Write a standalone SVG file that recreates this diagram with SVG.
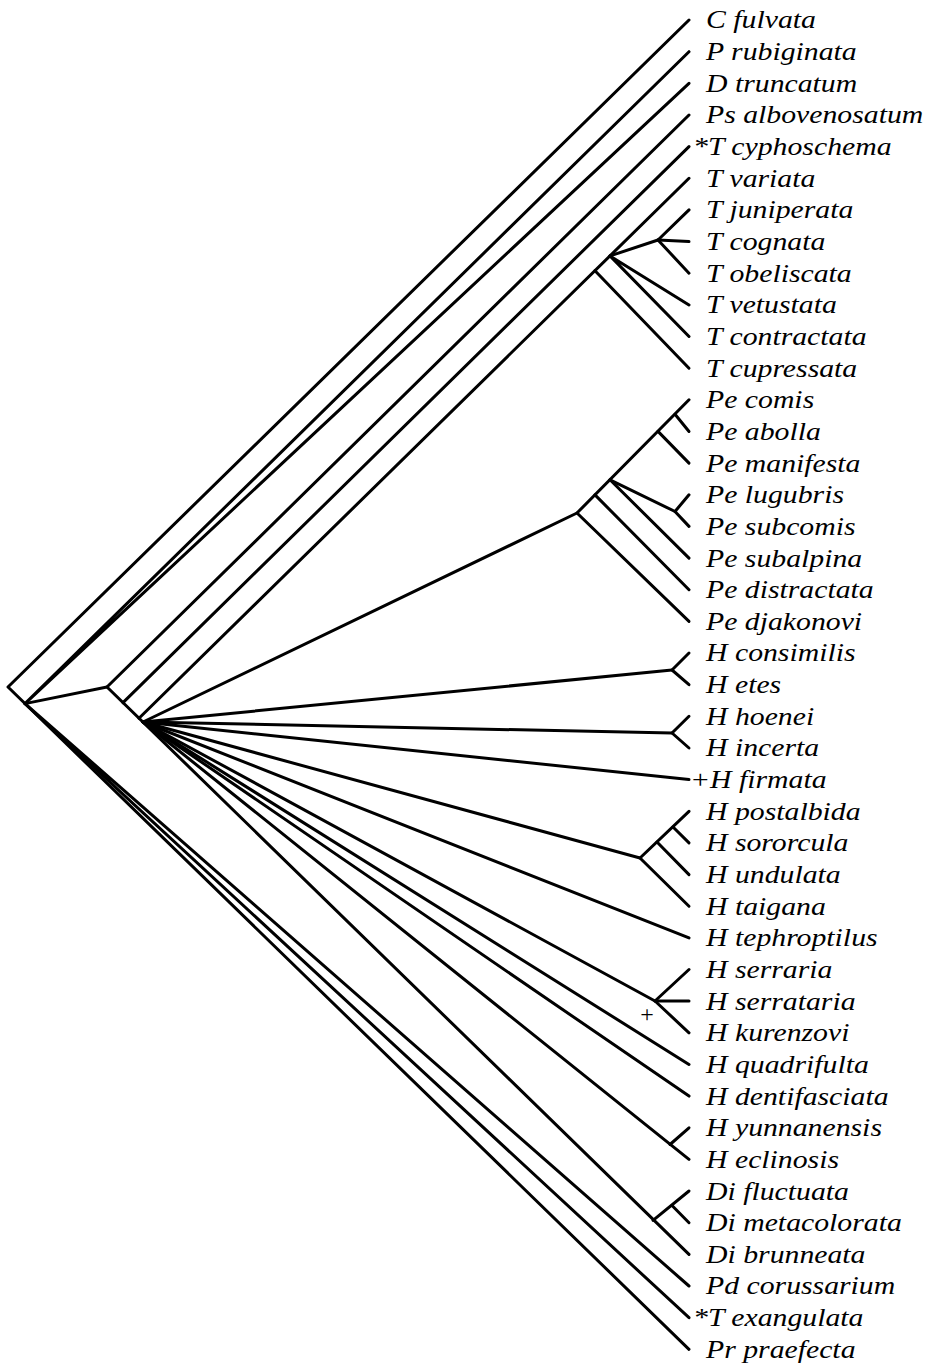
<svg xmlns="http://www.w3.org/2000/svg" width="937" height="1367" viewBox="0 0 937 1367">
<style>
.e{fill:none;stroke:#000;stroke-width:3;stroke-linecap:round;stroke-linejoin:round}
.t{font-family:"Liberation Serif","Times New Roman",serif;font-style:italic;font-size:25px;fill:#000}
.p{font-family:"Liberation Serif","Times New Roman",serif;font-size:24px;fill:#000}
</style>
<rect width="937" height="1367" fill="#fff"/>
<g id="connectors" class="e">
<path d="M689,20 L8,687 L689,1349.3"/>
<path d="M689,51.7 L25,703.6 L689,83.3"/>
<path d="M689,1286 L25,703.6 L689,1317.7"/>
<path d="M25,703.6 L107,687"/>
<path d="M689,115 L107,687 L689,1254.4"/>
<path d="M123,702.6 L689,146.6"/>
<path d="M139,718.3 L689,178.3"/>
<path d="M595,270.7 L689,368.2"/>
<path d="M689,304.9 L610,255.9 L689,336.5"/>
<path d="M610,255.9 L658,240"/>
<path d="M689,209.9 L658,240 L689,273.2"/>
<path d="M658,240 L689,241.6"/>
<path d="M143,722 L577,513 L689,399.8"/>
<path d="M675,414.3 L689,431.5"/>
<path d="M658,431.4 L689,463.1"/>
<path d="M610,479.8 L675,511.5"/>
<path d="M689,494.8 L675,511.5 L689,526.4"/>
<path d="M610,479.8 L689,558.1"/>
<path d="M595,494.9 L689,589.7"/>
<path d="M577,513 L689,621.4"/>
<path d="M143,722 L672,670"/>
<path d="M689,653 L672,670 L689,684.7"/>
<path d="M143,722 L672,733"/>
<path d="M689,716.3 L672,733 L689,748"/>
<path d="M143,722 L689,779.6"/>
<path d="M143,722 L640,858 L689,811.3"/>
<path d="M673,827 L689,842.9"/>
<path d="M657,842 L689,874.6"/>
<path d="M640,858 L689,906.2"/>
<path d="M143,722 L689,937.9"/>
<path d="M143,722 L655,1001"/>
<path d="M689,969.5 L655,1001 L689,1032.8"/>
<path d="M655,1001 L689,1001"/>
<path d="M143,722 L689,1064.5"/>
<path d="M143,722 L689,1096.1"/>
<path d="M143,722 L689,1159.4"/>
<path d="M670,1144.5 L689,1127.8"/>
<path d="M653,1220.3 L689,1191"/>
<path d="M672,1205.5 L689,1222.7"/>
</g>
<g id="marks">
<text class="p" x="640.2" y="1021.5">+</text>
</g>
<g id="labels" transform="scale(1.19,1)">
<g id="n0"><text class="t" x="593.3" y="28.5">C fulvata</text></g>
<g id="n1"><text class="t" x="593.3" y="60.2">P rubiginata</text></g>
<g id="n2"><text class="t" x="593.3" y="91.8">D truncatum</text></g>
<g id="n3"><text class="t" x="593.3" y="123.5">Ps albovenosatum</text></g>
<g id="n4"><text class="t" x="582.4" y="155.1">*T cyphoschema</text></g>
<g id="n5"><text class="t" x="593.3" y="186.8">T variata</text></g>
<g id="n6"><text class="t" x="593.3" y="218.4">T juniperata</text></g>
<g id="n7"><text class="t" x="593.3" y="250.1">T cognata</text></g>
<g id="n8"><text class="t" x="593.3" y="281.7">T obeliscata</text></g>
<g id="n9"><text class="t" x="593.3" y="313.4">T vetustata</text></g>
<g id="n10"><text class="t" x="593.3" y="345">T contractata</text></g>
<g id="n11"><text class="t" x="593.3" y="376.7">T cupressata</text></g>
<g id="n12"><text class="t" x="593.3" y="408.3">Pe comis</text></g>
<g id="n13"><text class="t" x="593.3" y="440">Pe abolla</text></g>
<g id="n14"><text class="t" x="593.3" y="471.6">Pe manifesta</text></g>
<g id="n15"><text class="t" x="593.3" y="503.3">Pe lugubris</text></g>
<g id="n16"><text class="t" x="593.3" y="534.9">Pe subcomis</text></g>
<g id="n17"><text class="t" x="593.3" y="566.6">Pe subalpina</text></g>
<g id="n18"><text class="t" x="593.3" y="598.2">Pe distractata</text></g>
<g id="n19"><text class="t" x="593.3" y="629.9">Pe djakonovi</text></g>
<g id="n20"><text class="t" x="593.3" y="661.5">H consimilis</text></g>
<g id="n21"><text class="t" x="593.3" y="693.2">H etes</text></g>
<g id="n22"><text class="t" x="593.3" y="724.8">H hoenei</text></g>
<g id="n23"><text class="t" x="593.3" y="756.5">H incerta</text></g>
<g id="n24"><text class="t" x="579.8" y="788.1">+H firmata</text></g>
<g id="n25"><text class="t" x="593.3" y="819.8">H postalbida</text></g>
<g id="n26"><text class="t" x="593.3" y="851.4">H sororcula</text></g>
<g id="n27"><text class="t" x="593.3" y="883.1">H undulata</text></g>
<g id="n28"><text class="t" x="593.3" y="914.7">H taigana</text></g>
<g id="n29"><text class="t" x="593.3" y="946.4">H tephroptilus</text></g>
<g id="n30"><text class="t" x="593.3" y="978">H serraria</text></g>
<g id="n31"><text class="t" x="593.3" y="1009.7">H serrataria</text></g>
<g id="n32"><text class="t" x="593.3" y="1041.3">H kurenzovi</text></g>
<g id="n33"><text class="t" x="593.3" y="1073">H quadrifulta</text></g>
<g id="n34"><text class="t" x="593.3" y="1104.6">H dentifasciata</text></g>
<g id="n35"><text class="t" x="593.3" y="1136.3">H yunnanensis</text></g>
<g id="n36"><text class="t" x="593.3" y="1167.9">H eclinosis</text></g>
<g id="n37"><text class="t" x="593.3" y="1199.6">Di fluctuata</text></g>
<g id="n38"><text class="t" x="593.3" y="1231.2">Di metacolorata</text></g>
<g id="n39"><text class="t" x="593.3" y="1262.9">Di brunneata</text></g>
<g id="n40"><text class="t" x="593.3" y="1294.5">Pd corussarium</text></g>
<g id="n41"><text class="t" x="582.4" y="1326.2">*T exangulata</text></g>
<g id="n42"><text class="t" x="593.3" y="1357.8">Pr praefecta</text></g>
</g>
</svg>
